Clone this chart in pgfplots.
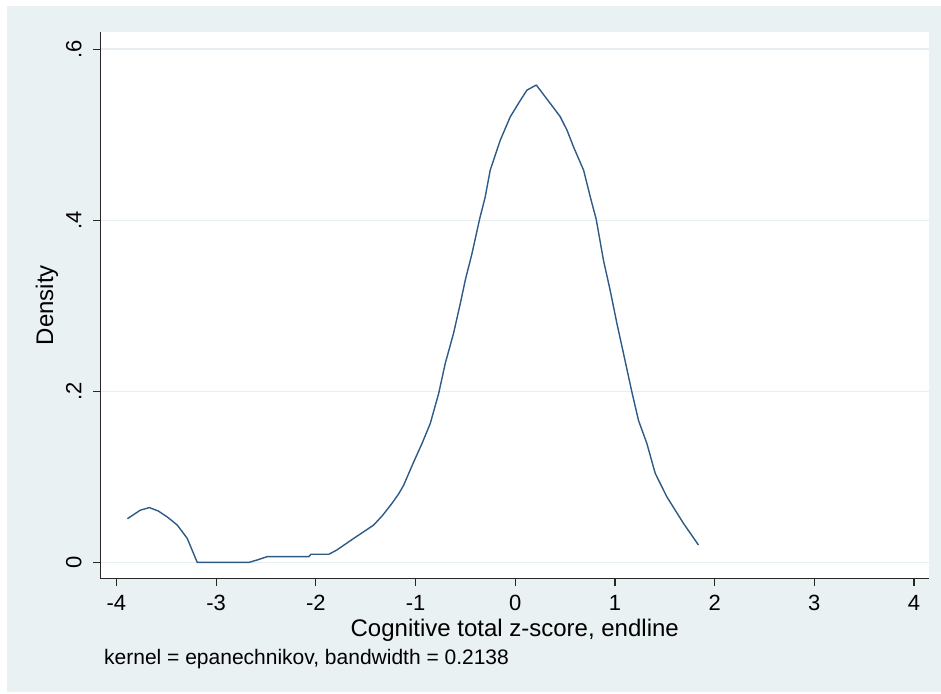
\documentclass[border=0pt]{standalone}
\usepackage{fontspec}
\setmainfont{Liberation Sans}
\usepackage{pgfplots}
\pgfplotsset{compat=1.18}
\definecolor{bgc}{HTML}{EAF1F3}
\definecolor{gridc}{HTML}{E6EEF1}
\definecolor{stnavy}{HTML}{2E5B86}
\begin{document}
\begin{tikzpicture}[x=1pt,y=1pt]
\fill[white] (-100.5,-114.5) rectangle (840.5,578.5);
\fill[bgc] (-93.5,-113) rectangle (840.5,572.5);
\useasboundingbox (-100.5,-114.5) rectangle (840.5,578.5);
\begin{axis}[
  at={(0,0)}, anchor=south west,
  scale only axis, width=828.5pt, height=546.5pt,
  xmin=-4.16, xmax=4.15, ymin=-0.0189, ymax=0.62,
  axis background/.style={fill=white},
  axis lines=left, axis line style={-, black!85, line width=1.2pt},
  tick align=outside, major tick length=7pt,
  tick style={black!85, line width=1.2pt},
  xtick={-4,-3,-2,-1,0,1,2,3,4},
  ytick={0,0.2,0.4,0.6}, yticklabels={0,.2,.4,.6},
  ymajorgrids, major grid style={gridc, line width=1.3pt},
  /pgf/number format/assume math mode=true,
  ticklabel style={font=\fontsize{22}{24}\selectfont, inner sep=0pt},
  xticklabel style={anchor=base},
  xticklabel shift=25pt,
  yticklabel style={rotate=90, anchor=base},
  yticklabel shift=12pt,
  label style={font=\fontsize{24}{26}\selectfont},
  xlabel={Cognitive total z-score, endline},
  xlabel style={at={(axis description cs:0.5,-0.1061)}, anchor=base, inner sep=0pt},
  ylabel={Density},
  ylabel style={at={(axis description cs:-0.0573,0.5)}, anchor=base, rotate=0, inner sep=0pt},
  clip=false,
]
\addplot[stnavy, line width=1.4pt, line join=round] coordinates {
(-3.89,0.051) (-3.76,0.061) (-3.67,0.064) (-3.58,0.060) (-3.49,0.053)
(-3.39,0.0436) (-3.29,0.028) (-3.19,0.0) (-2.67,0.0) (-2.59,0.0027)
(-2.49,0.0066) (-2.07,0.0066) (-2.05,0.0094) (-1.87,0.0094) (-1.79,0.0144)
(-1.62,0.028) (-1.42,0.0436) (-1.33,0.0550) (-1.236,0.0690) (-1.17,0.080) (-1.12,0.090)
(-1.02,0.1170) (-0.935,0.139) (-0.852,0.1625) (-0.769,0.197) (-0.702,0.2326)
(-0.619,0.2677) (-0.551,0.3027) (-0.501,0.330) (-0.434,0.361) (-0.358,0.401)
(-0.301,0.4274) (-0.251,0.4586) (-0.150,0.4936) (-0.050,0.5209) (0.040,0.538)
(0.117,0.552) (0.211,0.558) (0.351,0.5365) (0.451,0.521) (0.520,0.505) (0.584,0.4858)
(0.685,0.4586) (0.752,0.4274) (0.812,0.401) (0.885,0.353) (0.952,0.318)
(1.02,0.279) (1.086,0.244) (1.17,0.199) (1.236,0.166) (1.32,0.139)
(1.404,0.104) (1.52,0.0767) (1.687,0.0456) (1.838,0.0202)
};
\end{axis}
\node[anchor=base west, inner sep=0pt, font=\fontsize{21}{23}\selectfont] at (3.5,-85.5) {kernel = epanechnikov, bandwidth = 0.2138};
\end{tikzpicture}
\end{document}
